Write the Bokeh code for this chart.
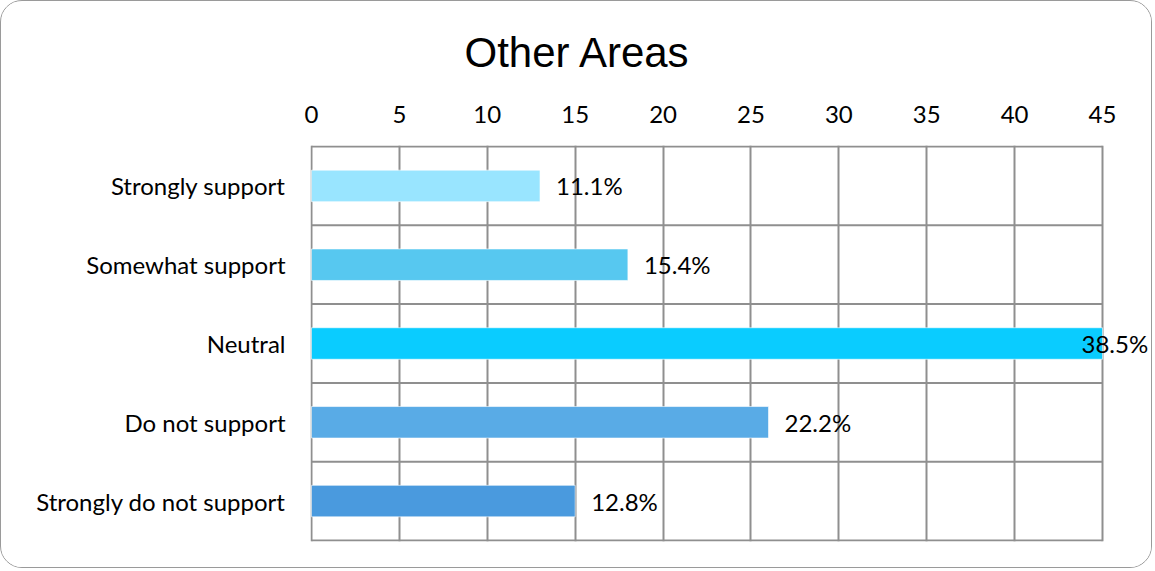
from bokeh.plotting import figure
from bokeh.models import ColumnDataSource, FixedTicker, Range1d, LabelSet
from bokeh.core.properties import value
from bokeh.embed import file_html
from bokeh.resources import INLINE

categories = ["Strongly support", "Somewhat support", "Neutral",
              "Do not support", "Strongly do not support"]
counts = [13, 18, 45, 26, 15]
pct_labels = ["11.1%", "15.4%", "38.5%", "22.2%", "12.8%"]
colors = ["#99E5FF", "#57C8F0", "#0ACCFF", "#59ABE6", "#4A9ADE"]
x_ticks = [0, 5, 10, 15, 20, 25, 30, 35, 40, 45]

n = len(categories)
X_MAX = 45
ypos = [n - 0.5 - i for i in range(n)]
offsets = [16 if v < X_MAX else -21 for v in counts]

src = ColumnDataSource(dict(y=ypos, right=counts, color=colors,
                            label=pct_labels, xoff=offsets))

W, H = 1152, 568
# plot area: value 0 at page x 311, value 45 at page x 1102;
# frame extends to the right so the last data label is not clipped
px_per_unit = (1102 - 311) / X_MAX
frame_left, frame_right = 309, 1149
x_start = -1 / px_per_unit
x_end = X_MAX + (frame_right + 1 - 1102) / px_per_unit
py_pad = 1 / ((540 - 146) / n)

p = figure(width=W, height=H, output_backend="svg", toolbar_location=None,
           x_range=Range1d(x_start, x_end),
           y_range=Range1d(-py_pad, n + py_pad),
           x_axis_location="above",
           min_border_left=frame_left, min_border_right=W - frame_right,
           min_border_top=144, min_border_bottom=H - 540)

p.title.text = "Other Areas"
p.title.text_font = "Liberation Sans"
p.title.text_font_size = "42px"
p.title.text_font_style = "normal"
p.title.align = "left"
p.title.vertical_align = "top"
p.title.offset = 154
p.title.standoff = 50
p.title.text_color = "black"

grid_color = "#8F8F8F"
ks = list(range(n + 1))
p.segment(x0=[0] * len(ks), y0=ks, x1=[X_MAX] * len(ks), y1=ks,
          line_color=grid_color, line_width=2)

p.hbar(y="y", left=0, right="right", height=0.4, color="color",
       line_color="white", line_alpha=0.6, line_width=1, source=src)

labels = LabelSet(x="right", y="y", text="label", x_offset="xoff", source=src,
                  text_align="left", text_baseline="middle",
                  text_font=value("Lato"), text_font_size="24px",
                  text_color="black", level="overlay")
p.add_layout(labels)

p.xaxis.ticker = FixedTicker(ticks=x_ticks)
p.xaxis.major_label_text_font = "Lato"
p.xaxis.major_label_text_font_size = "24px"
p.xaxis.major_label_text_color = "black"
p.xaxis.major_label_standoff = 17
p.xaxis.major_tick_line_color = None
p.xaxis.minor_tick_line_color = None
p.xaxis.axis_line_color = None

p.yaxis.ticker = FixedTicker(ticks=ypos)
p.yaxis.major_label_overrides = {y: c for y, c in zip(ypos, categories)}
p.yaxis.major_label_text_font = "Lato"
p.yaxis.major_label_text_font_size = "24px"
p.yaxis.major_label_text_color = "black"
p.yaxis.major_label_standoff = 19
p.yaxis.major_tick_line_color = None
p.yaxis.minor_tick_line_color = None
p.yaxis.axis_line_color = None

p.xgrid.ticker = FixedTicker(ticks=x_ticks)
p.xgrid.grid_line_color = grid_color
p.xgrid.grid_line_width = 2
p.xgrid.bounds = (0, X_MAX)
p.ygrid.grid_line_color = None

p.outline_line_color = None
p.background_fill_color = "white"
p.border_fill_color = "white"
p.styles = {"border": "1px solid #9a9a9a", "border-radius": "22px",
            "overflow": "hidden"}

open("out.html", "w").write(file_html(p, INLINE))
